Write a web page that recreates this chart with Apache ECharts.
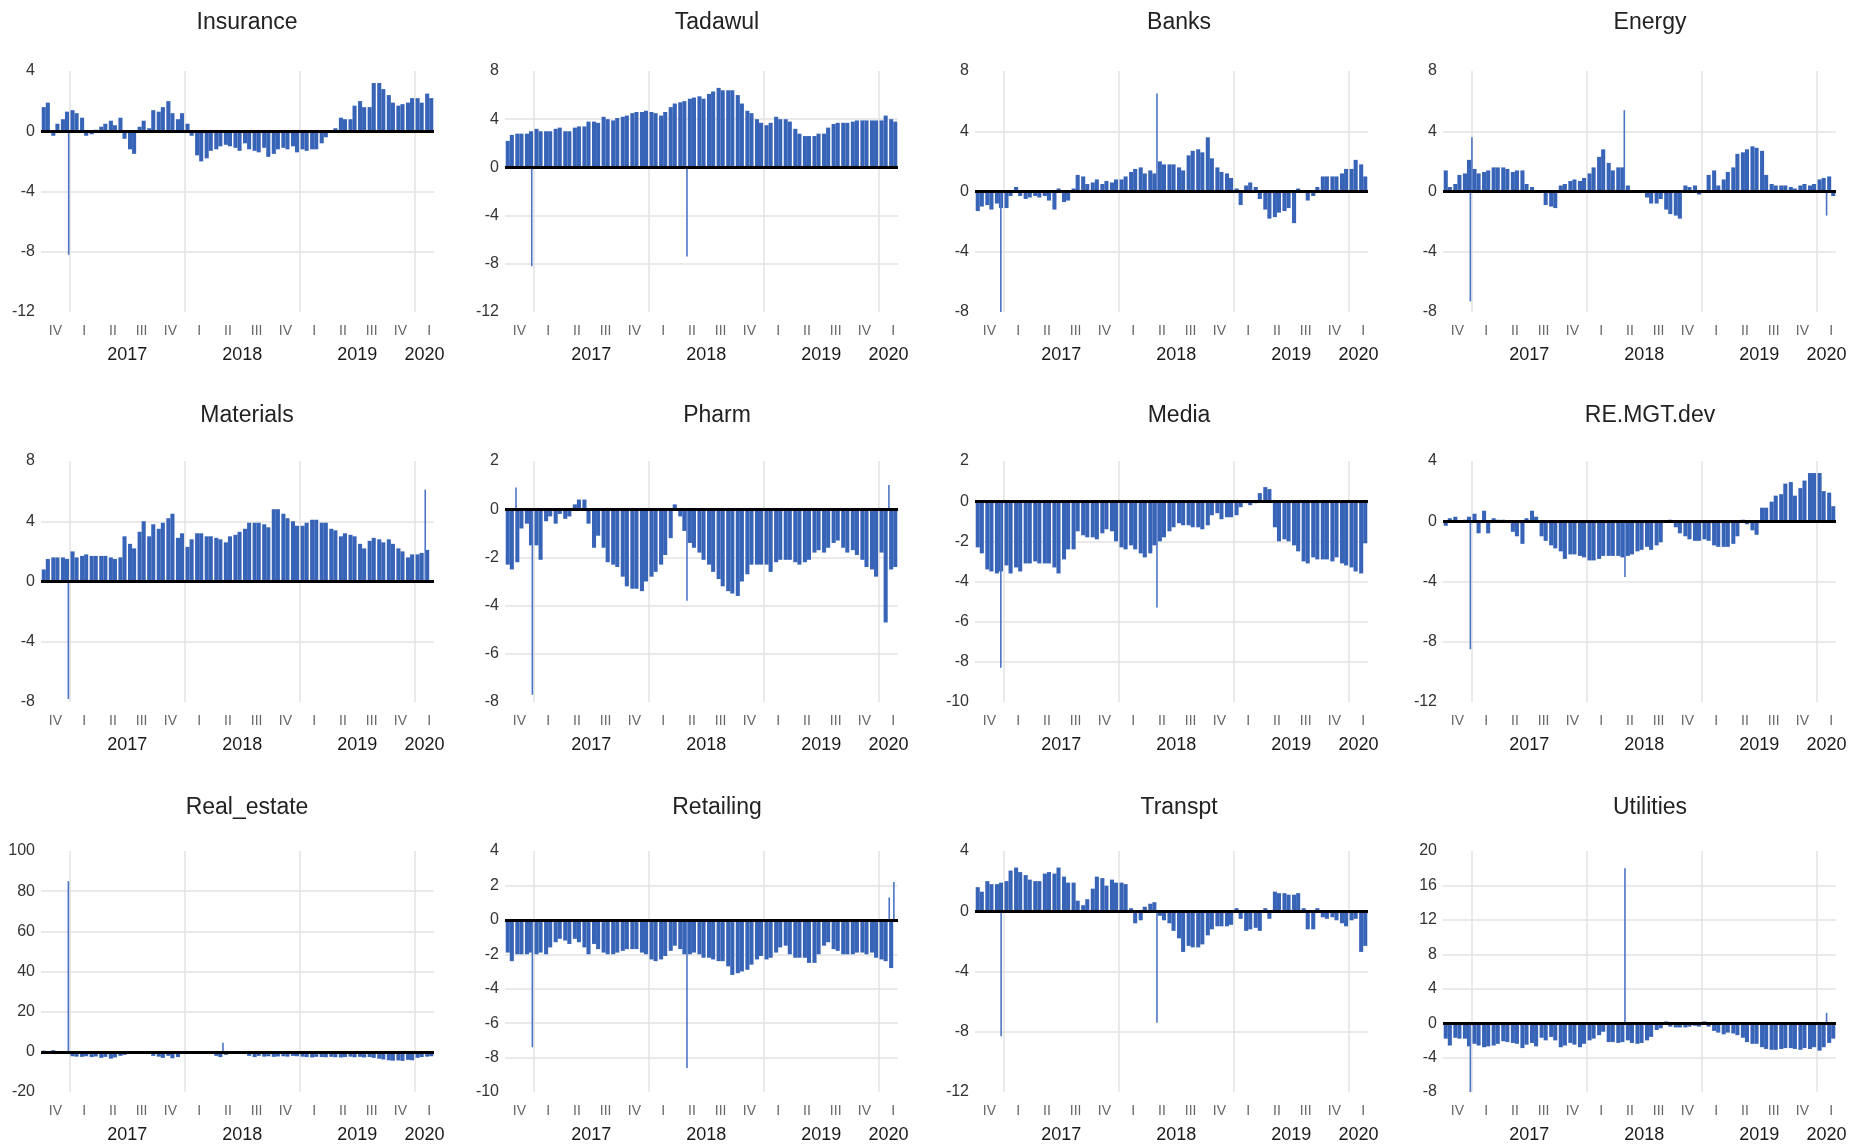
<!DOCTYPE html>
<html>
<head>
<meta charset="utf-8">
<script src="https://cdn.jsdelivr.net/npm/echarts@6/dist/echarts.min.js"></script>
<style>
  html, body { margin: 0; padding: 0; background: #ffffff; }
  #chart { width: 1861px; height: 1148px; }
</style>
</head>
<body>
<div id="chart"></div>
<script>
// ---- Time categories (one per month) ----
const months = [
  '2016-10', '2016-11', '2016-12',
  '2017-01', '2017-02', '2017-03', '2017-04', '2017-05', '2017-06', '2017-07', '2017-08', '2017-09', '2017-10', '2017-11', '2017-12',
  '2018-01', '2018-02', '2018-03', '2018-04', '2018-05', '2018-06', '2018-07', '2018-08', '2018-09', '2018-10', '2018-11', '2018-12',
  '2019-01', '2019-02', '2019-03', '2019-04', '2019-05', '2019-06', '2019-07', '2019-08', '2019-09', '2019-10', '2019-11', '2019-12',
  '2020-01', '2020-02'
];

// ---- Tick labels ----
const quarterMonths = ['02', '05', '08', '11'];
const quarterLabels = ['I', 'II', 'III', 'IV'];
const years = ['2017', '2018', '2019', '2020'];

// ---- Series values: two half-month readings per month ----
const insurance = [
  1.6, 1.9, -0.3, 0.5, 0.8, 1.3,
  1.4, 1.2, 0.9, -0.3, -0.2, 0.1, 0.3, 0.5, 0.7, 0.4, 0.9, -0.5, -1.2, -1.5, 0.3, 0.7, 0.2, 1.4, 1.3, 1.6, 2.0, 1.2, 0.8, 1.2,
  0.5, -0.3, -1.6, -2.0, -1.8, -1.3, -1.2, -1.0, -0.9, -1.0, -1.1, -1.3, -0.8, -1.2, -1.3, -1.4, -1.1, -1.7, -1.5, -1.2, -1.1, -1.2, -1.0, -1.4,
  -1.2, -1.3, -1.2, -1.2, -0.8, -0.4, -0.1, 0.2, 0.9, 0.8, 0.8, 1.7, 2.0, 1.6, 1.6, 3.2, 3.2, 2.8, 2.4, 1.9, 1.7, 1.8, 1.9, 2.2,
  2.2, 1.9, 2.5, 2.2
];
const tadawul = [
  2.2, 2.7, 2.8, 2.8, 2.8, 3.0,
  3.2, 3.0, 3.0, 3.0, 3.2, 3.3, 3.0, 3.0, 3.3, 3.4, 3.4, 3.8, 3.8, 3.7, 4.2, 4.0, 3.9, 4.1, 4.2, 4.3, 4.5, 4.6, 4.6, 4.7,
  4.6, 4.5, 4.3, 4.6, 5.0, 5.3, 5.4, 5.5, 5.7, 5.8, 5.9, 5.7, 6.1, 6.3, 6.6, 6.4, 6.4, 6.4, 6.0, 5.3, 4.7, 4.5, 4.0, 3.7,
  3.5, 3.7, 4.2, 4.0, 4.0, 3.8, 3.2, 2.8, 2.6, 2.6, 2.6, 2.8, 2.8, 3.3, 3.6, 3.7, 3.7, 3.7, 3.8, 3.9, 3.9, 3.9, 3.9, 3.9,
  3.9, 4.3, 4.0, 3.8
];
const banks = [
  -1.3, -1.0, -0.9, -1.2, -0.8, -1.1,
  -1.1, -0.3, 0.3, -0.3, -0.5, -0.4, -0.3, -0.4, -0.3, -0.6, -1.2, 0.2, -0.7, -0.6, 0.2, 1.1, 1.0, 0.5, 0.6, 0.8, 0.5, 0.7, 0.6, 0.8,
  0.8, 1.0, 1.3, 1.5, 1.6, 1.2, 1.4, 1.2, 2.0, 1.8, 1.8, 1.8, 1.6, 1.4, 2.4, 2.7, 2.8, 2.6, 3.6, 2.2, 1.6, 1.3, 1.2, 0.9,
  0.2, -0.9, 0.4, 0.6, 0.3, -0.5, -1.2, -1.8, -1.7, -1.4, -1.3, -1.1, -2.1, 0.2, 0.1, -0.6, -0.3, 0.3, 1.0, 1.0, 1.0, 1.0, 1.2, 1.5,
  1.5, 2.1, 1.8, 1.0
];
const energy = [
  1.4, 0.3, 0.5, 1.1, 1.2, 2.1,
  1.5, 1.2, 1.3, 1.4, 1.6, 1.6, 1.6, 1.5, 1.3, 1.4, 1.4, 0.5, 0.3, 0.0, -0.1, -0.9, -1.0, -1.1, 0.4, 0.5, 0.7, 0.8, 0.7, 0.9,
  1.2, 1.6, 2.3, 2.8, 1.9, 1.4, 1.6, 1.6, 0.4, 0.1, 0.0, 0.1, -0.4, -0.8, -0.8, -0.5, -1.2, -1.5, -1.6, -1.8, 0.4, 0.3, 0.4, -0.2,
  0.1, 1.1, 1.4, 0.4, 0.8, 1.3, 1.6, 2.5, 2.6, 2.8, 3.0, 2.9, 2.7, 1.1, 0.5, 0.4, 0.4, 0.4, 0.3, 0.2, 0.4, 0.5, 0.4, 0.5,
  0.8, 0.9, 1.0, -0.3
];
const materials = [
  0.8, 1.5, 1.6, 1.6, 1.6, 1.5,
  2.0, 1.6, 1.7, 1.8, 1.7, 1.7, 1.7, 1.7, 1.6, 1.5, 1.6, 3.0, 2.5, 2.2, 3.3, 4.0, 3.0, 3.8, 3.5, 3.9, 4.2, 4.5, 2.9, 3.2,
  2.3, 2.8, 3.2, 3.2, 3.0, 3.0, 2.9, 2.8, 2.6, 3.0, 3.1, 3.3, 3.5, 3.9, 3.9, 3.9, 3.8, 3.6, 4.8, 4.8, 4.5, 4.2, 4.0, 3.7,
  3.7, 3.9, 4.1, 4.1, 3.9, 3.9, 3.5, 3.4, 3.0, 3.2, 3.1, 3.0, 2.5, 2.2, 2.7, 2.9, 2.8, 2.6, 2.8, 2.5, 2.2, 2.0, 1.6, 1.8,
  1.8, 1.9, 2.1, null
];
const pharm = [
  -2.3, -2.5, -2.2, -0.8, -0.6, -1.5,
  -1.5, -2.1, -0.5, -0.3, -0.6, -0.2, -0.4, -0.3, 0.2, 0.4, 0.4, -0.6, -1.6, -1.1, -1.6, -2.2, -2.3, -2.4, -2.8, -3.2, -3.3, -3.3, -3.4, -3.0,
  -2.8, -2.6, -2.3, -1.9, -1.2, 0.2, -0.3, -0.9, -1.4, -1.6, -1.8, -2.1, -2.3, -2.6, -2.9, -3.2, -3.4, -3.5, -3.6, -3.0, -2.7, -2.3, -2.3, -2.3,
  -2.3, -2.6, -2.2, -2.1, -2.1, -2.1, -2.2, -2.3, -2.2, -2.1, -1.8, -1.7, -1.8, -1.6, -1.4, -1.3, -1.6, -1.8, -1.7, -1.9, -2.1, -2.4, -2.5, -2.8,
  -1.8, -4.7, -2.5, -2.4
];
const media = [
  -2.3, -2.6, -3.4, -3.5, -3.6, -3.5,
  -3.2, -3.6, -3.3, -3.5, -3.1, -3.1, -3.0, -3.1, -3.1, -3.1, -3.3, -3.6, -2.9, -2.4, -2.4, -1.5, -1.7, -1.8, -1.8, -1.9, -1.6, -1.4, -1.5, -2.0,
  -2.3, -2.4, -2.2, -2.4, -2.6, -2.8, -2.6, -2.2, -2.0, -1.8, -1.5, -1.3, -1.1, -1.2, -1.2, -1.3, -1.3, -1.4, -1.2, -0.7, -0.6, -0.9, -0.8, -0.8,
  -0.7, -0.3, -0.1, -0.2, -0.1, 0.4, 0.7, 0.6, -1.3, -2.0, -1.9, -2.0, -2.2, -2.5, -3.0, -3.1, -2.8, -2.9, -2.9, -2.9, -3.0, -2.8, -3.1, -3.2,
  -3.3, -3.5, -3.6, -2.1
];
const reMgtDev = [
  -0.3, 0.2, 0.3, 0.0, 0.1, 0.3,
  0.5, -0.8, 0.7, -0.8, 0.2, 0.1, 0.1, -0.1, -0.7, -1.0, -1.5, 0.2, 0.7, 0.3, -1.0, -1.3, -1.6, -1.8, -2.0, -2.5, -2.2, -2.2, -2.3, -2.4,
  -2.6, -2.6, -2.5, -2.3, -2.3, -2.3, -2.3, -2.4, -2.3, -2.2, -2.0, -1.9, -1.7, -1.9, -1.6, -1.4, -0.1, 0.1, -0.4, -0.8, -1.0, -1.2, -1.3, -1.3,
  -1.2, -1.3, -1.6, -1.7, -1.7, -1.7, -1.5, -1.0, 0.1, -0.2, -0.6, -0.9, 0.9, 0.9, 1.3, 1.7, 1.8, 2.5, 2.6, 1.7, 2.2, 2.7, 3.2, 3.2,
  3.2, 2.0, 1.9, 1.0
];
const realEstate = [
  0.6, -0.8, 0.8, -0.6, -0.5, -1.0,
  -2.2, -2.4, -2.5, -2.2, -2.6, -2.3, -3.0, -2.5, -3.4, -2.8, -2.0, -1.5, 0, 0, 0, 0, 0, -2.0, -2.4, -3.0, -2.0, -3.2, -2.6, 0,
  0, 0, 0, 0, 0, 0, -2.0, -2.6, -1.5, 0, 0, 0, 0, -2.0, -2.6, -2.0, -2.4, -2.2, -2.5, -2.3, -2.2, -2.4, -2.0, -2.2,
  -2.4, -2.6, -2.8, -2.5, -2.6, -2.7, -2.5, -2.7, -2.8, -2.6, -2.4, -2.7, -2.5, -2.8, -2.6, -3.0, -3.4, -3.8, -4.2, -4.4, -4.3, -4.5, -4.0, -4.2,
  -3.0, -2.6, -2.4, -2.2
];
const retailing = [
  -1.9, -2.4, -2.0, -2.0, -2.0, -1.9,
  -2.0, -1.9, -2.0, -1.6, -1.3, -1.1, -1.2, -1.4, -1.1, -1.3, -1.6, -2.0, -1.4, -1.7, -1.9, -2.0, -2.0, -1.9, -1.8, -1.7, -1.7, -1.7, -1.9, -2.0,
  -2.3, -2.4, -2.3, -2.1, -1.8, -1.5, -1.7, -2.0, -2.0, -1.9, -2.0, -2.2, -2.2, -2.3, -2.4, -2.4, -2.7, -3.2, -3.1, -3.0, -2.9, -2.6, -2.3, -2.1,
  -2.3, -2.2, -1.9, -1.6, -1.5, -2.0, -2.2, -2.2, -2.2, -2.5, -2.5, -2.0, -1.5, -1.3, -1.7, -1.8, -2.0, -2.0, -2.0, -1.9, -1.9, -2.0, -1.9, -2.2,
  -2.3, -2.4, -2.8, null
];
const transpt = [
  1.6, 1.3, 2.0, 1.8, 1.8, 1.9,
  2.0, 2.7, 2.9, 2.6, 2.4, 2.1, 2.0, 2.0, 2.5, 2.6, 2.5, 2.9, 2.3, 1.9, 1.9, 0.7, 0.4, 0.8, 1.5, 2.3, 2.2, 1.7, 2.1, 1.9,
  1.9, 1.8, 0.2, -0.8, -0.6, 0.3, 0.5, 0.6, -0.3, -0.6, -0.8, -1.3, -1.8, -2.7, -2.3, -2.4, -2.4, -2.2, -1.6, -1.2, -1.0, -1.0, -1.0, -0.9,
  0.2, -0.5, -1.3, -1.2, -1.1, -1.3, 0.2, -0.5, 1.3, 1.2, 1.2, 1.1, 1.1, 1.2, 0.2, -1.2, -1.2, 0.2, -0.4, -0.5, -0.4, -0.6, -0.8, -1.0,
  -0.6, -0.5, -2.7, -2.3
];
const utilities = [
  -1.8, -2.6, -1.7, -1.8, -1.8, -2.7,
  -2.4, -2.6, -2.8, -2.7, -2.6, -2.4, -2.1, -2.2, -2.3, -2.4, -2.9, -2.5, -2.3, -2.7, -1.7, -2.0, -1.6, -2.0, -2.8, -2.6, -2.3, -2.5, -2.8, -2.4,
  -2.0, -1.8, -1.4, -1.0, -2.2, -2.2, -2.3, -2.2, -2.0, -2.3, -2.4, -2.3, -2.0, -1.6, -0.8, -0.6, 0.2, -0.4, -0.5, -0.5, -0.5, -0.4, -0.3, -0.4,
  0.2, -0.4, -0.9, -1.1, -1.3, -1.1, -1.2, -1.4, -1.7, -2.2, -2.4, -2.4, -2.8, -3.0, -3.1, -3.1, -3.0, -2.9, -2.9, -3.0, -3.1, -2.9, -3.0, -2.8,
  -3.2, -2.8, -2.3, -1.8
];

// ---- Single-day outliers: [date, value] ----
const insuranceSpikes = [['2016-12-28', -8.2]];
const tadawulSpikes = [['2016-12-25', -8.2], ['2018-04-30', -7.4]];
const banksSpikes = [['2016-12-22', -8.0], ['2018-04-30', 6.5]];
const energySpikes = [['2016-12-27', -7.3], ['2017-01-01', 3.6], ['2018-04-28', 5.4], ['2020-02-01', -1.6]];
const materialsSpikes = [['2016-12-27', -7.8], ['2020-02-03', 6.1]];
const pharmSpikes = [['2016-11-05', 0.9], ['2016-12-27', -7.7], ['2018-04-30', -3.8], ['2020-02-02', 1.0]];
const mediaSpikes = [['2016-12-22', -8.3], ['2018-04-30', -5.3]];
const reMgtDevSpikes = [['2016-12-27', -8.5], ['2018-04-30', -3.7]];
const realEstateSpikes = [['2016-12-27', 85], ['2018-04-30', 4.5]];
const retailingSpikes = [['2016-12-27', -7.4], ['2018-04-30', -8.6], ['2020-02-03', 1.3], ['2020-02-17', 2.2]];
const transptSpikes = [['2016-12-23', -8.3], ['2018-04-30', -7.4]];
const utilitiesSpikes = [['2016-12-27', -8.0], ['2018-04-30', 18.0], ['2020-02-01', 1.2]];

// ---- Panels: title, data and value-axis ticks ----
const panels = [
  { title: 'Insurance',   values: insurance,  spikes: insuranceSpikes,  yMin: -12, yMax: 4,   yStep: 4 },
  { title: 'Tadawul',     values: tadawul,    spikes: tadawulSpikes,    yMin: -12, yMax: 8,   yStep: 4 },
  { title: 'Banks',       values: banks,      spikes: banksSpikes,      yMin: -8,  yMax: 8,   yStep: 4 },
  { title: 'Energy',      values: energy,     spikes: energySpikes,     yMin: -8,  yMax: 8,   yStep: 4 },
  { title: 'Materials',   values: materials,  spikes: materialsSpikes,  yMin: -8,  yMax: 8,   yStep: 4 },
  { title: 'Pharm',       values: pharm,      spikes: pharmSpikes,      yMin: -8,  yMax: 2,   yStep: 2 },
  { title: 'Media',       values: media,      spikes: mediaSpikes,      yMin: -10, yMax: 2,   yStep: 2 },
  { title: 'RE.MGT.dev',  values: reMgtDev,   spikes: reMgtDevSpikes,   yMin: -12, yMax: 4,   yStep: 4 },
  { title: 'Real_estate', values: realEstate, spikes: realEstateSpikes, yMin: -20, yMax: 100, yStep: 20 },
  { title: 'Retailing',   values: retailing,  spikes: retailingSpikes,  yMin: -10, yMax: 4,   yStep: 2 },
  { title: 'Transpt',     values: transpt,    spikes: transptSpikes,    yMin: -12, yMax: 4,   yStep: 4 },
  { title: 'Utilities',   values: utilities,  spikes: utilitiesSpikes,  yMin: -8,  yMax: 20,  yStep: 4 }
];

// ---- Page layout ----
const layout = {
  colLeft: [41, 505, 975, 1443],
  plotWidth: 393,
  rowTop: [71, 461, 851],
  plotHeight: 241,
  titleX: [242, 712, 1174, 1645],
  titleTop: [6, 399, 791]
};

const FONT = '"Liberation Sans", Arial, Helvetica, sans-serif';
const BAR_COLOR = '#3864b7';
const SPIKE_COLOR = '#4d74c4';
const GRID_COLOR = '#e3e3e3';

// Continuous month position of a date (month 0 starts at the first category)
function monthPos(date) {
  const [y, m, d] = date.split('-').map(Number);
  const idx = months.indexOf(y + '-' + String(m).padStart(2, '0'));
  const days = new Date(y, m, 0).getDate();
  return idx + (d - 0.5) / days;
}

// Year label sits in the middle of the months belonging to that year
const yearPos = years.map(function (y) {
  const idx = [];
  months.forEach(function (m, i) { if (m.slice(0, 4) === y) idx.push(i); });
  return (idx[0] + idx[idx.length - 1] + 1) / 2;
});
const yearAt = {};
yearPos.forEach(function (p, i) { yearAt[String(p)] = years[i]; });

function quarterOf(cat) {
  const q = quarterMonths.indexOf(cat.slice(5));
  return q >= 0 ? quarterLabels[q] : null;
}

const option = {
  animation: false,
  backgroundColor: '#ffffff',
  textStyle: { fontFamily: FONT },
  title: [], grid: [], xAxis: [], yAxis: [], series: []
};

panels.forEach(function (p, k) {
  const col = k % 4;
  const row = Math.floor(k / 4);

  option.title.push({
    text: p.title,
    left: layout.titleX[col],
    top: layout.titleTop[row],
    textAlign: 'center',
    textStyle: { fontFamily: FONT, fontSize: 23, fontWeight: 'normal', color: '#222222' }
  });

  option.grid.push({
    left: layout.colLeft[col],
    top: layout.rowTop[row],
    width: layout.plotWidth,
    height: layout.plotHeight
  });

  // Monthly category axis: quarter labels and year separators
  option.xAxis.push({
    type: 'category',
    gridIndex: k,
    data: months,
    boundaryGap: true,
    axisLine: { show: false },
    axisTick: { show: false },
    axisLabel: {
      interval: function (i, v) { return quarterOf(v) !== null; },
      formatter: function (v) { return quarterOf(v) || ''; },
      fontFamily: FONT, fontSize: 14, color: '#666666', margin: 12
    },
    splitLine: {
      show: true,
      interval: function (i, v) { return v.slice(5) === '01'; },
      showMinLine: true,
      showMaxLine: false,
      lineStyle: { color: GRID_COLOR, width: 1.5 }
    }
  });

  // Continuous month axis: year labels and single-day bars
  option.xAxis.push({
    type: 'value',
    gridIndex: k,
    min: 0,
    max: months.length,
    position: 'bottom',
    offset: 27,
    axisLine: { show: false },
    axisTick: { show: false },
    splitLine: { show: false },
    axisLabel: {
      customValues: yearPos,
      formatter: function (v) { return yearAt[String(v)] || ''; },
      fontFamily: FONT, fontSize: 18, color: '#1a1a1a', margin: 7
    }
  });

  option.yAxis.push({
    type: 'value',
    gridIndex: k,
    min: p.yMin,
    max: p.yMax,
    interval: p.yStep,
    axisLine: { show: false },
    axisTick: { show: false },
    axisLabel: { fontFamily: FONT, fontSize: 16, color: '#333333', margin: 6 },
    splitLine: {
      show: true,
      showMinLine: false,
      showMaxLine: false,
      lineStyle: { color: GRID_COLOR, width: 1.5 }
    }
  });

  const firstHalf = p.values.filter(function (v, i) { return i % 2 === 0; });
  const secondHalf = p.values.filter(function (v, i) { return i % 2 === 1; });

  option.series.push({
    type: 'bar', name: p.title + ' (1st half)',
    xAxisIndex: 2 * k, yAxisIndex: k,
    data: firstHalf,
    barGap: '0%', barCategoryGap: '15%',
    itemStyle: { color: BAR_COLOR },
    silent: true
  });
  option.series.push({
    type: 'bar', name: p.title + ' (2nd half)',
    xAxisIndex: 2 * k, yAxisIndex: k,
    data: secondHalf,
    barGap: '0%', barCategoryGap: '15%',
    itemStyle: { color: BAR_COLOR },
    silent: true
  });
  option.series.push({
    type: 'bar', name: p.title + ' (daily)',
    xAxisIndex: 2 * k + 1, yAxisIndex: k,
    data: p.spikes.map(function (s) { return [monthPos(s[0]), s[1]]; }),
    barWidth: 1.6,
    itemStyle: { color: SPIKE_COLOR },
    silent: true,
    markLine: {
      silent: true,
      symbol: ['none', 'none'],
      label: { show: false },
      lineStyle: { color: '#000000', width: 3, type: 'solid' },
      data: [{ yAxis: 0 }]
    }
  });
});

const chart = echarts.init(document.getElementById('chart'), null, { renderer: 'canvas' });
chart.setOption(option);
</script>
</body>
</html>
